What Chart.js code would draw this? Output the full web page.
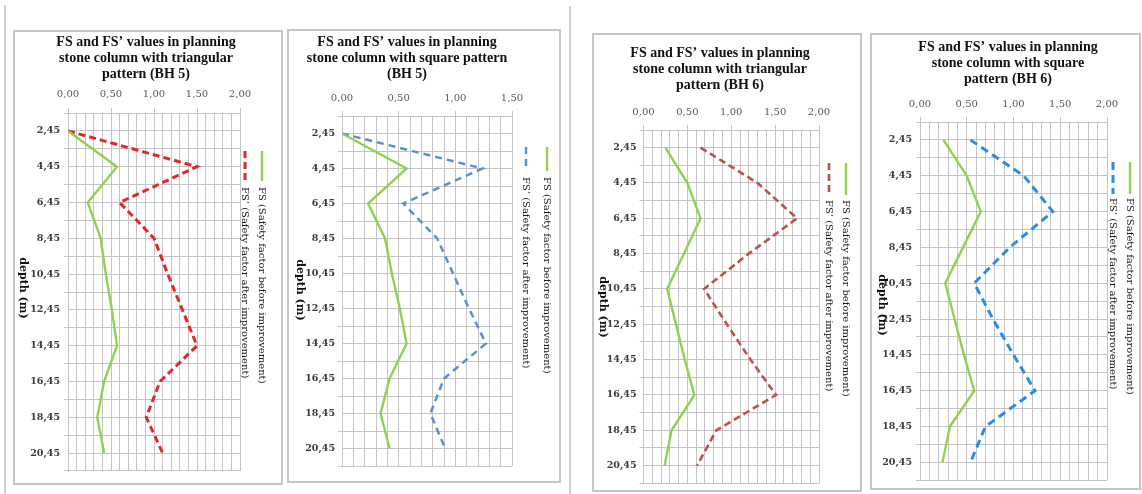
<!DOCTYPE html>
<html><head><meta charset="utf-8">
<script src="https://cdn.jsdelivr.net/npm/chart.js@4.4.1/dist/chart.umd.min.js"></script>
<style>
html,body{margin:0;padding:0;background:#fff;}
body{width:1142px;height:494px;position:relative;overflow:hidden;}
.panel{position:absolute;box-sizing:border-box;border:2px solid #c6c6c6;pointer-events:none;}
canvas{position:absolute;}
.vline{position:absolute;width:2px;background:#d0d0d0;}
</style></head><body>
<div class="vline" style="left:4px;top:5px;height:489px"></div>
<div class="vline" style="left:569px;top:6px;height:488px"></div>
<canvas id="c1" width="270" height="455" style="left:13px;top:30px"></canvas>
<canvas id="c2" width="274" height="454" style="left:287px;top:29px"></canvas>
<canvas id="c3" width="270" height="459" style="left:592px;top:33px"></canvas>
<canvas id="c4" width="271" height="457" style="left:870px;top:33px"></canvas>
<div class="panel" style="left:13px;top:30px;width:270px;height:455px"></div>
<div class="panel" style="left:287px;top:29px;width:274px;height:454px"></div>
<div class="panel" style="left:592px;top:33px;width:270px;height:459px"></div>
<div class="panel" style="left:870px;top:33px;width:271px;height:457px"></div>
<script>
// ---- data ----
const depthLabels = ['2,45','4,45','6,45','8,45','10,45','12,45','14,45','16,45','18,45','20,45'];
const xTickLabels = ['0,00','0,50','1,00','1,50','2,00'];
const fsBH5          = [0.00,0.57,0.23,0.38,0.44,0.51,0.57,0.42,0.34,0.42];
const fsPrimeBH5Tri  = [0.00,1.50,0.60,1.00,1.16,1.33,1.50,1.07,0.91,1.10];
const fsPrimeBH5Sq   = [0.00,1.24,0.54,0.84,0.98,1.12,1.27,0.90,0.78,0.91];
const fsBH6          = [0.25,0.50,0.65,0.46,0.27,0.37,0.47,0.58,0.32,0.24];
const fsPrimeBH6Tri  = [0.65,1.30,1.75,1.20,0.69,0.95,1.22,1.51,0.83,0.61];
const fsPrimeBH6Sq   = [0.54,1.11,1.42,0.96,0.58,0.78,1.00,1.23,0.70,0.54];
const labelFS  = 'FS (Safety factor before improvement)';
const labelFSP = 'FS\u2019 (Safety factor after improvement)';
const axisTitle = 'depth (m)';
const titles = [
  ['FS and FS\u2019 values in planning','stone column with triangular','pattern (BH 5)'],
  ['FS and FS\u2019 values in planning','stone column with square pattern','(BH 5)'],
  ['FS and FS\u2019 values in planning','stone column with triangular','pattern (BH 6)'],
  ['FS and FS\u2019 values in planning','stone column with square','pattern (BH 6)']
];

// ---- styles ----
const gridColor = '#c4c4c4';
const green = '#92d050';
Chart.defaults.font.family = 'DejaVu Serif';

const sideText = {
  id: 'sideText',
  afterDraw(chart, args, o) {
    const ctx = chart.ctx;
    // title
    ctx.save();
    ctx.font = 'bold 14px "Liberation Serif"';
    ctx.fillStyle = '#111';
    ctx.textAlign = 'center'; ctx.textBaseline = 'middle';
    o.title.forEach((t, i) => ctx.fillText(t, o.titleX, o.titleY + i * 16));
    ctx.restore();
    // axis title
    ctx.save();
    ctx.font = 'bold 11px "DejaVu Serif"';
    ctx.fillStyle = '#111';
    ctx.textAlign = 'center'; ctx.textBaseline = 'middle';
    ctx.translate(o.axisX, o.axisY); ctx.rotate(Math.PI / 2);
    ctx.fillText(axisTitle, 0, 0);
    ctx.restore();
    // legend
    chart.data.datasets.forEach((ds, i) => {
      const x = o.legendX[i];
      ctx.save();
      ctx.strokeStyle = ds.borderColor; ctx.lineWidth = ds.borderWidth;
      ctx.setLineDash(ds.borderDash || []);
      ctx.beginPath(); ctx.moveTo(x, o.legendTop); ctx.lineTo(x, o.legendTop + o.sampleLen); ctx.stroke();
      ctx.setLineDash([]);
      ctx.font = '10px "DejaVu Serif"'; ctx.fillStyle = '#1a1a1a';
      ctx.textAlign = 'left'; ctx.textBaseline = 'middle';
      ctx.translate(x, o.legendTextTop); ctx.rotate(Math.PI / 2);
      ctx.fillText(ds.label, 0, 0);
      ctx.restore();
    });
  }
};

function makeChart(id, L, fs, fsp, col, dash, width) {
  const xLabel = (v) => { const k = Math.round(v * 10); return k % 5 === 0 ? xTickLabels[k / 5] : ''; };
  const xH = 30, padL = 2;
  const cv = document.getElementById(id);
  new Chart(cv, {
    type: 'line',
    data: {
      labels: depthLabels,
      datasets: [
        { label: labelFS, data: fs, borderColor: green, backgroundColor: green, borderWidth: 2.4, pointRadius: 0, tension: 0, yAxisID: 'y' },
        { label: labelFSP, data: fsp, borderColor: col, backgroundColor: col, borderWidth: width, borderDash: dash, pointRadius: 0, tension: 0, yAxisID: 'y' }
      ]
    },
    options: {
      indexAxis: 'y',
      responsive: false, animation: false,
      layout: { padding: { left: padL, right: cv.width - L.right, top: L.top - xH, bottom: cv.height - L.bottom } },
      scales: {
        x: {
          type: 'linear', position: 'top', min: 0, max: L.xMax,
          ticks: { stepSize: 0.1, maxTicksLimit: 40, autoSkip: false, maxRotation: 0, padding: L.xPad,
                   font: { size: 10 }, color: '#595959', callback: xLabel },
          grid: { color: gridColor, tickLength: 5,
                  tickColor: (c) => (c.tick && Math.round(c.tick.value * 10) % 5 === 0) ? gridColor : 'rgba(0,0,0,0)' },
          border: { color: gridColor },
          afterFit(s) { s.height = xH; }
        },
        y: {
          type: 'category', position: 'left', offset: true,
          grid: { offset: true, color: gridColor, tickLength: 4, tickColor: gridColor },
          border: { color: gridColor },
          ticks: { autoSkip: false, padding: L.yPad, font: { size: 9.5, weight: 'bold' }, color: '#3a3a3a' },
          afterFit(s) { s.width = L.left - padL; }
        },
        y2: {
          type: 'category', position: 'left', offset: true,
          grid: { offset: false, color: gridColor, drawTicks: false },
          border: { display: false },
          ticks: { display: false },
          afterFit(s) { s.width = 0; }
        }
      },
      plugins: {
        legend: { display: false },
        tooltip: { enabled: false },
        title: { display: false },
        sideText: { title: L.title, titleX: L.titleX, titleY: L.titleY,
                    axisX: L.axisX, axisY: L.axisY, legendX: L.legendX, legendTop: L.legendTop,
                    sampleLen: L.sampleLen, legendTextTop: L.legendTextTop }
      }
    },
    plugins: [sideText]
  });
}

makeChart('c1', { left: 55, right: 227, top: 83, bottom: 441, xMax: 2, xPad: 8, yPad: 4,
  title: titles[0], titleX: 133, titleY: 12,
  axisX: 10, axisY: 258, legendX: [249, 232], legendTop: 121, sampleLen: 30, legendTextTop: 157 },
  fsBH5, fsPrimeBH5Tri, '#e02a2a', [7, 4], 3);
makeChart('c2', { left: 55, right: 225, top: 87, bottom: 437, xMax: 1.5, xPad: 7, yPad: 3,
  title: titles[1], titleX: 120, titleY: 13,
  axisX: 13, axisY: 261, legendX: [260, 239], legendTop: 118, sampleLen: 24, legendTextTop: 148 },
  fsBH5, fsPrimeBH5Sq, '#5b8fd3', [7, 5], 2.5);
makeChart('c3', { left: 51.5, right: 227, top: 97, bottom: 451, xMax: 2, xPad: 7, yPad: 3,
  title: titles[2], titleX: 128, titleY: 20,
  axisX: 11, axisY: 274, legendX: [254, 237], legendTop: 130, sampleLen: 32, legendTextTop: 167 },
  fsBH6, fsPrimeBH6Tri, '#c0504d', [7, 4], 2.6);
makeChart('c4', { left: 50, right: 237, top: 89, bottom: 449, xMax: 2, xPad: 7, yPad: 4,
  title: titles[3], titleX: 138, titleY: 14,
  axisX: 12, axisY: 272, legendX: [260, 243], legendTop: 129, sampleLen: 32, legendTextTop: 165 },
  fsBH6, fsPrimeBH6Sq, '#2b8ee0', [8, 5], 3);
</script>
</body></html>
